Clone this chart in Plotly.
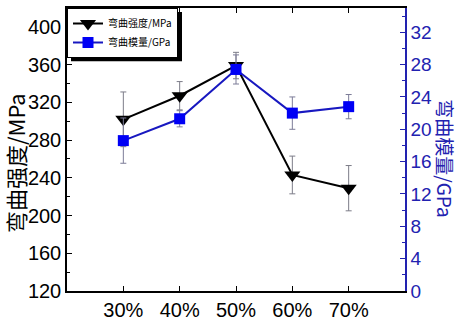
import plotly.graph_objects as go

categories = ["30%", "40%", "50%", "60%", "70%"]
xpos = [1, 2, 3, 4, 5]
strength = [302, 327, 359, 243, 229]
strength_err = [29, 15, 14, 20, 24]
modulus = [18.6, 21.3, 27.4, 22.0, 22.8]
modulus_err = [2.8, 1.0, 1.8, 2.0, 1.5]

left_ticks = [120, 160, 200, 240, 280, 320, 360, 400]
right_ticks = [0, 4, 8, 12, 16, 20, 24, 28, 32]

BLUE = "#0000f5"
LINEBLUE = "#1818c0"
AXBLUE = "#2222b0"
TICKFONT = "Liberation Sans, Arial, sans-serif"
CJK = "Noto Sans CJK SC"

L, R, T, B = 67, 63, 6, 29
W, H = 468, 327
pw, ph = W - L - R, H - T - B


def px(x):
    return (x - L) / pw


def py(y):
    return (H - B - y) / ph


fig = go.Figure()
fig.add_trace(go.Scatter(
    x=xpos, y=strength, name="弯曲强度/MPa", mode="lines+markers",
    line=dict(color="black", width=2),
    marker=dict(symbol="triangle-down", size=14, color="black"),
    error_y=dict(type="data", array=strength_err, color="#7c7c88", thickness=1, width=3),
))
fig.add_trace(go.Scatter(
    x=xpos, y=modulus, name="弯曲模量/GPa", mode="lines+markers", yaxis="y2",
    line=dict(color=LINEBLUE, width=2),
    marker=dict(symbol="square", size=11, color=BLUE),
    error_y=dict(type="data", array=modulus_err, color="#7c7c98", thickness=1, width=3),
))

fig.update_layout(
    width=W, height=H,
    margin=dict(l=L, r=R, t=T, b=B),
    plot_bgcolor="white", paper_bgcolor="white",
    showlegend=True,
    legend=dict(x=0, y=1, xanchor="left", yanchor="top",
                bgcolor="white", bordercolor="black", borderwidth=1,
                font=dict(family=CJK, size=10, color="black"),
                itemwidth=30, tracegroupgap=2),
    xaxis=dict(range=[0, 6], tickvals=xpos, ticktext=categories,
               showline=True, linecolor="black", linewidth=1.5, mirror="ticks",
               ticks="inside", ticklen=5, tickcolor="black", showgrid=False, zeroline=False,
               tickfont=dict(family=TICKFONT, size=20, color="black")),
    yaxis=dict(range=[120, 420], tickvals=left_ticks,
               showline=True, linecolor="black", linewidth=1.5,
               ticks="inside", ticklen=5, tickcolor="black", showgrid=False, zeroline=False,
               tickfont=dict(family=TICKFONT, size=20, color="black"),
               minor=dict(tickvals=[v + 20 for v in left_ticks], ticks="inside", ticklen=3, tickcolor="black")),
    yaxis2=dict(range=[0, 35], tickvals=right_ticks, overlaying="y", side="right",
                showline=True, linecolor=AXBLUE, linewidth=1.5,
                ticks="inside", ticklen=5, tickcolor=AXBLUE, showgrid=False, zeroline=False,
                tickfont=dict(family=TICKFONT, size=19, color=AXBLUE),
                minor=dict(tickvals=[v + 2 for v in right_ticks], ticks="inside", ticklen=3, tickcolor=AXBLUE)),
    annotations=[
        dict(text="弯曲强度/MPa", x=px(15), y=py(166), xref="paper", yref="paper", showarrow=False,
             xanchor="center", yanchor="middle",
             textangle=-90, font=dict(family=CJK, size=22, color="black")),
        dict(text="弯曲模量/GPa", x=px(446), y=py(161), xref="paper", yref="paper", showarrow=False,
             xanchor="center", yanchor="middle",
             textangle=90, font=dict(family=CJK, size=19, color=AXBLUE)),
    ],
    shapes=[
        dict(type="rect", xref="paper", yref="paper", x0=px(71), x1=px(182), y0=py(10), y1=py(61),
             fillcolor="black", line=dict(width=0), layer="above"),
    ],
)
fig.write_html("out.html")
